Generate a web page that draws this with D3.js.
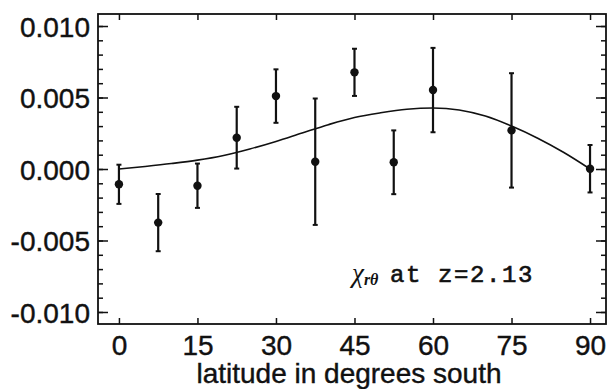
<!DOCTYPE html>
<html>
<head>
<meta charset="utf-8">
<script src="https://cdn.jsdelivr.net/npm/d3@7"></script>
<style>
  html, body { margin: 0; padding: 0; background: #fff; }
  svg { display: block; }
</style>
</head>
<body>
<div id="chart"></div>
<script>
// data
const latitudes = [0, 7.5, 15, 22.5, 30, 37.5, 45, 52.5, 60, 75, 90];
const chiValues = [-0.00107, -0.00375, -0.00117, 0.00219, 0.0051, 0.00051, 0.00676, 0.00047, 0.00552, 0.0027, 0.00002];
const chiErrors = [0.00137, 0.0020, 0.00155, 0.00216, 0.00187, 0.00442, 0.00165, 0.00223, 0.00295, 0.0040, 0.00166];

// model curve
const curveLat = [0, 5, 10, 15, 20, 25, 30, 35, 40, 45, 50, 55, 60, 65, 70, 75, 80, 85, 90];
const curveChi = [0, 0.00018, 0.00038, 0.00062, 0.00095, 0.0014, 0.00193, 0.00252, 0.0031, 0.0036, 0.00393, 0.00418, 0.00427, 0.00413, 0.0037, 0.003, 0.00215, 0.00115, 0];

const xTicks = [0, 15, 30, 45, 60, 75, 90];
const yTicks = [-0.01, -0.005, 0, 0.005, 0.01];
const yTickLabels = ["-0.010", "-0.005", "0.000", "0.005", "0.010"];
const yMinorTicks = d3.range(-10, 11).map(d => d / 1000);

const COLORS = { ink: "#111", paper: "#fff" };

const width = 608, height = 389;
const frame = { left: 98, right: 606, top: 14, bottom: 324 };

const svg = d3.select("#chart").append("svg")
    .attr("width", width).attr("height", height);

const x = d3.scaleLinear().domain([-4, 93.05]).range([frame.left, frame.right]);
const y = d3.scaleLinear().domain([-0.01084, 0.01084]).range([frame.bottom, frame.top]);

const labelFont = "'Liberation Sans', Arial, Helvetica, sans-serif";

// --- axes (ticks point inward, like IDL) ---
function styleAxis(g) {
    g.select(".domain").remove();
    g.selectAll(".tick line").attr("stroke", COLORS.ink).attr("stroke-width", 1.5);
    g.selectAll("text").attr("fill", COLORS.ink).attr("font-family", labelFont).attr("font-size", 28)
        .attr("stroke", COLORS.ink).attr("stroke-width", 0.4);
}

svg.append("g").attr("transform", `translate(${frame.left},0)`)
    .call(d3.axisLeft(y).tickValues(yMinorTicks).tickSize(-5).tickFormat(""))
    .call(styleAxis);
svg.append("g").attr("transform", `translate(${frame.left},0)`)
    .call(d3.axisLeft(y).tickValues(yTicks).tickSize(-10).tickPadding(8)
        .tickFormat((d, i) => yTickLabels[i]))
    .call(styleAxis)
    .selectAll("text").attr("dy", "0.36em");

svg.append("g").attr("transform", `translate(${frame.right},0)`)
    .call(d3.axisRight(y).tickValues(yMinorTicks).tickSize(-5).tickFormat(""))
    .call(styleAxis);
svg.append("g").attr("transform", `translate(${frame.right},0)`)
    .call(d3.axisRight(y).tickValues(yTicks).tickSize(-10).tickFormat(""))
    .call(styleAxis);

svg.append("g").attr("transform", `translate(0,${frame.bottom})`)
    .call(d3.axisBottom(x).tickValues(xTicks).tickSize(-6).tickPadding(11).tickFormat(d3.format("d")))
    .call(styleAxis);
svg.append("g").attr("transform", `translate(0,${frame.top})`)
    .call(d3.axisTop(x).tickValues(xTicks).tickSize(-6).tickFormat(""))
    .call(styleAxis);

// frame
svg.append("rect")
    .attr("x", frame.left).attr("y", frame.top)
    .attr("width", frame.right - frame.left).attr("height", frame.bottom - frame.top)
    .attr("fill", "none").attr("stroke", COLORS.ink).attr("stroke-width", 1.8);

// x title
svg.append("text")
    .attr("x", (frame.left + frame.right) / 2 - 3).attr("y", 383)
    .attr("text-anchor", "middle")
    .attr("font-family", labelFont).attr("font-size", 28).attr("fill", COLORS.ink)
    .attr("stroke", COLORS.ink).attr("stroke-width", 0.4)
    .text("latitude in degrees south");

// --- model curve ---
const line = d3.line().x((d, i) => x(curveLat[i])).y(d => y(d)).curve(d3.curveMonotoneX);
svg.append("path").datum(curveChi)
    .attr("fill", "none").attr("stroke", COLORS.ink).attr("stroke-width", 1.6)
    .attr("d", line);

// --- error bars + points ---
const pts = latitudes.map((lat, i) => ({ lat, val: chiValues[i], err: chiErrors[i] }));
const bars = svg.append("g").selectAll("g").data(pts).join("g");
bars.append("line")
    .attr("x1", d => x(d.lat)).attr("x2", d => x(d.lat))
    .attr("y1", d => y(d.val + d.err)).attr("y2", d => y(d.val - d.err))
    .attr("stroke", COLORS.ink).attr("stroke-width", 2.2);
[1, -1].forEach(s => {
    bars.append("line")
        .attr("x1", d => x(d.lat) - 2.5).attr("x2", d => x(d.lat) + 2.5)
        .attr("y1", d => y(d.val + s * d.err)).attr("y2", d => y(d.val + s * d.err))
        .attr("stroke", COLORS.ink).attr("stroke-width", 2);
});
bars.append("circle")
    .attr("cx", d => x(d.lat)).attr("cy", d => y(d.val)).attr("r", 4.2)
    .attr("fill", COLORS.ink);

// --- annotation ---
const note = svg.append("text").attr("x", 352).attr("y", 282).attr("fill", COLORS.ink);
note.append("tspan")
    .attr("font-family", "'Liberation Serif', 'DejaVu Serif', serif").attr("font-style", "italic")
    .attr("font-size", 27).text("χ");
note.append("tspan")
    .attr("font-family", "'Liberation Serif', 'DejaVu Serif', serif").attr("font-style", "italic")
    .attr("font-weight", "bold").attr("font-size", 16).attr("dy", 3).text("rθ");
note.append("tspan")
    .attr("x", 390).attr("dy", -3)
    .attr("font-family", "'Liberation Mono', 'DejaVu Sans Mono', monospace")
    .attr("font-size", 24).attr("letter-spacing", 1.6)
    .attr("stroke", COLORS.ink).attr("stroke-width", 0.6)
    .text("at z=2.13");
</script>
</body>
</html>
